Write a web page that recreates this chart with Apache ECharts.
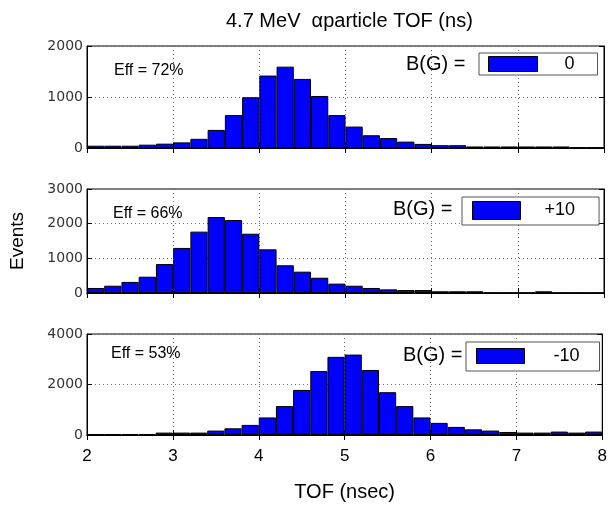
<!DOCTYPE html>
<html>
<head>
<meta charset="utf-8">
<script src="https://cdn.jsdelivr.net/npm/echarts@6/dist/echarts.min.js"></script>
<style>html,body{margin:0;padding:0;background:#fff}#c{width:610px;height:507px}</style>
</head>
<body>
<div id="c"></div>
<script>
// 0.2 ns bins between 2 and 8 ns (bin centres)
var bins = ['2.1','2.3','2.5','2.7','2.9','3.1','3.3','3.5','3.7','3.9',
            '4.1','4.3','4.5','4.7','4.9','5.1','5.3','5.5','5.7','5.9',
            '6.1','6.3','6.5','6.7','6.9','7.1','7.3','7.5','7.7','7.9'];
var fields = ['0', '+10', '-10'];
var effLabels = ['Eff = 72%', 'Eff = 66%', 'Eff = 53%'];
var countsB0 = [45,45,45,65,85,110,180,355,645,995,1420,1595,1355,1020,645,420,250,195,125,80,55,55,30,30,30,30,30,30,10,10];
var countsBp10 = [145,210,320,470,835,1300,1770,2190,2105,1710,1260,800,615,440,270,210,145,105,85,85,50,50,50,5,5,5,50,5,5,5];
var countsBm10 = [40,40,40,40,95,95,95,175,265,400,695,1145,1785,2530,3095,3185,2575,1695,1145,695,480,320,225,175,120,95,95,135,95,135];
var yMax = [2000, 3000, 4000];
var yStep = [1000, 1000, 2000];
var xTicks = {min: 2, max: 8, step: 1};

var seriesData = [countsB0, countsBp10, countsBm10];
var FONT = 'Liberation Sans, Arial, sans-serif';

var gridTops = [46, 189, 334];
var gridHeights = [102, 104, 101];
var grids = [], xAxes = [], yAxes = [], series = [], legends = [], graphics = [];
var legendLayout = [
  {left: 479, top: 53, padding: [2, 23, 2, 9], itemWidth: 49, itemHeight: 15, tp: 22},
  {left: 462, top: 197, padding: [4, 24, 5, 10], itemWidth: 48, itemHeight: 18, tp: 19},
  {left: 466, top: 342, padding: [5, 20, 6, 10], itemWidth: 48, itemHeight: 15, tp: 24}
];
var bgLabelPos = [[406, 65], [393, 210], [403, 356]];
var effPos = [[114, 72], [113, 215], [111, 355]];
var dotted = {color: '#6f6f6f', type: [1, 3], width: 1};

for (var i = 0; i < 3; i++) {
  grids.push({left: 87, right: 6, top: gridTops[i], height: gridHeights[i],
              show: true, borderColor: '#000', borderWidth: 1, backgroundColor: '#fff'});
  xAxes.push({type: 'value', gridIndex: i, min: xTicks.min, max: xTicks.max, interval: xTicks.step,
    position: 'bottom',
    axisLine: {show: true, onZero: false, lineStyle: {color: '#000', width: 1}},
    axisTick: {show: true, inside: true, length: 5, lineStyle: {color: '#000'}},
    axisLabel: {show: i === 2, fontFamily: FONT, fontSize: 17, color: '#000', margin: 13},
    splitLine: {show: true, lineStyle: dotted},
    name: i === 2 ? 'TOF (nsec)' : '', nameLocation: 'middle', nameGap: 47,
    nameTextStyle: {fontFamily: FONT, fontSize: 20, color: '#000'}
  });
  xAxes.push({type: 'value', gridIndex: i, min: xTicks.min, max: xTicks.max, interval: xTicks.step,
    position: 'top',
    axisLine: {show: true, lineStyle: {color: '#000', width: 1}},
    axisTick: {show: true, inside: true, length: 5, lineStyle: {color: '#000'}},
    axisLabel: {show: false}, splitLine: {show: false}
  });
  xAxes.push({type: 'category', gridIndex: i, data: bins, show: false, boundaryGap: true});

  yAxes.push({type: 'value', gridIndex: i, min: 0, max: yMax[i], interval: yStep[i],
    position: 'left',
    axisLine: {show: true, lineStyle: {color: '#000', width: 1}},
    axisTick: {show: true, inside: true, length: 5, lineStyle: {color: '#000'}},
    axisLabel: {fontFamily: 'DejaVu Sans, sans-serif', fontSize: 14, color: '#333', margin: 4,
                formatter: function (v) { return String(v); }},
    splitLine: {show: true, lineStyle: dotted},
    name: i === 1 ? 'Events' : '', nameLocation: 'middle', nameGap: 60, nameRotate: 90,
    nameTextStyle: {fontFamily: FONT, fontSize: 19, color: '#000'}
  });
  yAxes.push({type: 'value', gridIndex: i, min: 0, max: yMax[i], interval: yStep[i],
    position: 'right',
    axisLine: {show: true, lineStyle: {color: '#000', width: 1}},
    axisTick: {show: true, inside: true, length: 5, lineStyle: {color: '#000'}},
    axisLabel: {show: false}, splitLine: {show: false}
  });

  series.push({type: 'bar', name: fields[i], xAxisIndex: i * 3 + 2, yAxisIndex: i * 2,
    data: seriesData[i], barCategoryGap: '0%', barGap: '0%',
    itemStyle: {color: '#0000ff', borderColor: '#000', borderWidth: 1},
    silent: true, animation: false});

  var L = legendLayout[i];
  legends.push({data: [fields[i]], left: L.left, top: L.top, padding: L.padding,
    itemWidth: L.itemWidth, itemHeight: L.itemHeight, selectedMode: false, icon: 'rect',
    backgroundColor: '#fff', borderColor: '#555', borderWidth: 1,
    itemStyle: {color: '#0000ff', borderColor: '#000', borderWidth: 1},
    textStyle: {fontFamily: FONT, fontSize: 18, color: '#000', padding: [0, 0, 0, L.tp]}});

  graphics.push({type: 'text', left: bgLabelPos[i][0], top: bgLabelPos[i][1] - 11,
    style: {text: 'B(G) =', fontFamily: FONT, fontSize: 20, fill: '#000'}});
  graphics.push({type: 'text', left: effPos[i][0], top: effPos[i][1] - 9,
    style: {text: effLabels[i], fontFamily: FONT, fontSize: 16, fill: '#000'}});
}

var chart = echarts.init(document.getElementById('c'), null, {renderer: 'canvas'});
chart.setOption({
  animation: false,
  backgroundColor: '#fff',
  title: {text: '4.7 MeV  \u03B1particle TOF (ns)', left: 221, top: 6,
          textStyle: {fontFamily: FONT, fontSize: 20, fontWeight: 'normal', color: '#000'}},
  grid: grids, xAxis: xAxes, yAxis: yAxes, series: series, legend: legends,
  graphic: graphics
});
</script>
</body>
</html>
